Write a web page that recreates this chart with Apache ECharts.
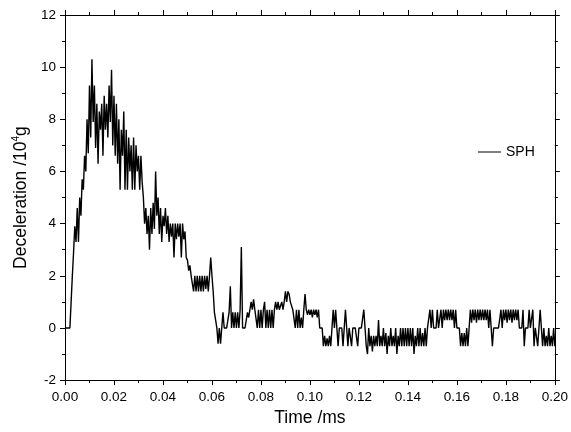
<!DOCTYPE html>
<html><head><meta charset="utf-8">
<script src="https://cdn.jsdelivr.net/npm/echarts@6/dist/echarts.min.js"></script>
<style>html,body{margin:0;padding:0;background:#fff}#c{width:571px;height:432px}</style>
</head><body><div id="c"></div>
<script>
const dt = 0.0005;
// Deceleration (10^4 g), 0.0005 ms apart
const seg0 = [0,0,0,0,0,1.0,2.0,2.9,3.9,3.3, 4.6,3.3,5.0,4.3,5.7,5.3,6.6,6.0,8.0,6.7,
  9.3,7.3,10.3,7.9,9.3,6.9,8.6,6.3,8.3,7.6, 8.6,6.6,8.9,7.6,8.6,7.3,9.3,7.9,9.9,7.0,
  8.9,6.6,8.6,6.3,8.0,5.3,7.6,6.6,8.3,5.3, 7.6,5.3,7.3,6.0,7.0,5.3,7.3,5.3,7.0,6.0,
  6.6,5.3,6.6,5.6,5.0,4.0,4.6,3.6,4.3,3.0, 4.6,3.6,4.8,3.8,6.0,4.3,5.0,3.6,4.6,3.3];
const seg1 = [4.3,3.9,4.6,3.6,4.3,3.3,4.0,3.5,4.0,2.7, 4.0,3.4,4.0,3.5,4.0,2.7,4.0,3.4,3.7,2.7,
  2.6,2.2,2.4,2.0,2.0,1.4,2.0,1.4,2.0,1.4, 2.0,1.4,2.0,1.4,2.0,1.5,2.0,1.4,2.0,2.7,
  2.0,1.4,0.6,0.3,0,-0.6,0,-0.6,0,0.6, 0,0,0,0,0.6,1.6,0,0.6,0,0.6,
  0,0.6,0,0.7,3.1,0,0,0,0,0.6, 0.4,0.7,1.0,0.7,1.1,0.7,0.7,0,0.7,0];
const seg2 = [0.7,0,0.7,1.0,0,0.7,0,0.7,0,0.7, 0,0.7,1.0,0.7,1.0,0.7,0.7,1.0,0.7,1.0,
  1.4,1.0,1.4,1.3,1.0,1.0,0.7,0.7,0,0.7, 0,0.7,0,0.4,0,0.7,1.3,0.7,0.5,0.7,
  0.5,0.7,0.4,0.7,0.5,0.7,0.4,0.7,0,0, 0,-0.7,-0.3,-0.7,-0.4,-0.7,-0.3,-0.7,0,0.7,
  0,0.7,0,-0.7,0,0,0,-0.7,0,0.7, 0,-0.7,0,0,-0.7,0,0,0,0,-0.7];
const seg3 = [0,0,0,0,0.7,0,-0.7,-1.0,0,-0.7, -0.3,-0.9,-0.3,-0.7,-0.3,-0.7,0.3,-0.7,-0.3,-0.7,
  0,-0.7,-0.2,-1.0,-0.3,-0.7,0,-0.7,-0.3,-0.7, 0,-1.0,-0.3,-0.7,0,-0.7,0,-0.7,0,-0.7,
  0,-0.7,0,-0.7,0,-1.0,-0.3,-0.7,0,-0.7, 0,-0.7,-0.2,-0.7,0,-0.7,0,0,0.7,0,
  0.7,0,0,0,0.7,0,0,0.7,0,0.7, 0.3,0.7,0.3,0.7,0.3,0.7,0.3,0.7,0,0.7];
const seg4 = [0,0,0,-0.7,-0.2,-0.7,-0.2,-0.7,0,-0.7, 0,0.7,0.2,0.7,0.3,0.7,0.2,0.7,0.3,0.7,
  0.3,0.7,0.3,0.7,0.3,0.7,0,0.7,0,-0.7, 0,0,0,0,0,0,0.7,0,0.7,0.3,
  0.7,0.2,0.7,0.3,0.7,0.2,0.7,0.3,0.7,0.3, 0.7,0,0,0,0.7,-0.7,0,0,0,0.7,
  0,0,0.7,-0.7,0,0,-0.7,0,0.7,0, -0.7,0,-0.7,-0.3,-0.7,0,-0.7,-0.3,-0.7,0, -0.7];
const seriesName = 'SPH';
const xTicks = ['0.00','0.02','0.04','0.06','0.08','0.10','0.12','0.14','0.16','0.18','0.20'];
const yTicks = [-2,0,2,4,6,8,10,12];

const values = seg0.concat(seg1, seg2, seg3, seg4);
const data = values.map((v, i) => [+(i * dt).toFixed(4), v]);

const axisCommon = {
  axisLine: {show: true, onZero: false, lineStyle: {color: '#000', width: 1}},
  axisTick: {show: true, inside: false, length: 5, lineStyle: {color: '#000'}},
  minorTick: {show: true, splitNumber: 2, length: 3, lineStyle: {color: '#000'}},
  splitLine: {show: false}
};
const font = 'Liberation Sans, Arial, sans-serif';

const chart = echarts.init(document.getElementById('c'), null, {renderer: 'canvas'});
chart.setOption({
  animation: false,
  backgroundColor: '#fff',
  grid: {left: 65, right: 11, top: 15, bottom: 50},
  legend: {
    data: [{name: seriesName, icon: 'rect'}], left: 478, top: 145, padding: 0,
    itemWidth: 23, itemHeight: 1, itemGap: 4,
    textStyle: {fontFamily: font, fontSize: 14, color: '#000'}
  },
  xAxis: [
    Object.assign({}, axisCommon, {
      type: 'value', min: 0, max: 0.2, interval: 0.02, position: 'bottom',
      name: 'Time /ms', nameLocation: 'middle', nameGap: 26,
      nameTextStyle: {fontFamily: font, fontSize: 17.5, color: '#000'},
      axisLabel: {margin: 10, fontFamily: font, fontSize: 13.5, color: '#000',
        formatter: (v) => xTicks[Math.round(v / 0.02)]}
    }),
    Object.assign({}, axisCommon, {
      type: 'value', min: 0, max: 0.2, interval: 0.02, position: 'top',
      axisLabel: {show: false}
    })
  ],
  yAxis: [
    Object.assign({}, axisCommon, {
      type: 'value', min: yTicks[0], max: yTicks[yTicks.length - 1], interval: 2, position: 'left',
      name: '{a|Deceleration /10}{s|4}{a|g}', nameLocation: 'middle', nameGap: 34, nameRotate: 90,
      nameTextStyle: {rich: {
        a: {fontFamily: font, fontSize: 17.5, color: '#000'},
        s: {fontFamily: font, fontSize: 10, color: '#000', padding: [0, 0, 10, 0]}
      }},
      axisLabel: {margin: 9, fontFamily: font, fontSize: 13.5, color: '#000'}
    }),
    Object.assign({}, axisCommon, {
      type: 'value', min: yTicks[0], max: yTicks[yTicks.length - 1], interval: 2, position: 'right',
      axisLabel: {show: false}
    })
  ],
  series: [{
    name: seriesName, type: 'line', xAxisIndex: 0, yAxisIndex: 0,
    data: data, symbol: 'none', showSymbol: false,
    lineStyle: {color: '#000', width: 1.4}, itemStyle: {color: '#000'}
  }]
});
</script></body></html>
